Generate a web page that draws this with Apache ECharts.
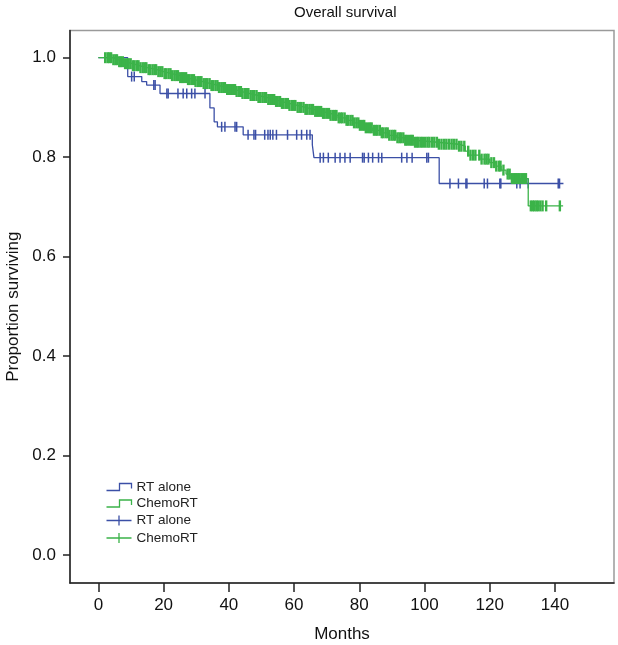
<!DOCTYPE html>
<html>
<head>
<meta charset="utf-8">
<script src="https://cdn.jsdelivr.net/npm/echarts@6/dist/echarts.min.js"></script>
<style>html,body{margin:0;padding:0;background:#fff}#c{width:618px;height:645px}</style>
</head>
<body>
<div id="c"></div>
<script>
// ---- data ----
const xTicks = [0, 20, 40, 60, 80, 100, 120, 140];
const yTicks = [0.0, 0.2, 0.4, 0.6, 0.8, 1.0];

// Kaplan-Meier steps: [month, survival after step]
const rtSteps = [[0,1.0],[9.0,0.962],[13.3,0.952],[14.8,0.945],[18.9,0.928],[34.2,0.899],[35.5,0.871],[36.5,0.861],[44.4,0.845],[65.6,0.825],[66.1,0.799],[104.5,0.747],[142.6,0.747]];
const chemoSteps = [[0,1.0],[4.5,0.996],[6,0.992],[8,0.988],[10.5,0.984],[12.5,0.980],[15,0.976],[18,0.972],[20,0.968],[22.5,0.964],[25,0.960],[27,0.956],[29.5,0.952],[32,0.948],[34.5,0.944],[37,0.940],[39.5,0.936],[42,0.932],[44,0.928],[46.5,0.924],[49,0.920],[51.5,0.916],[54,0.912],[56,0.908],[58.5,0.904],[61,0.900],[63.5,0.896],[66,0.892],[68.5,0.888],[71,0.884],[73.5,0.879],[76,0.874],[78,0.869],[80,0.864],[82,0.859],[84,0.854],[86.5,0.849],[89,0.844],[91.5,0.839],[94,0.834],[97,0.830],[104,0.826],[110.5,0.822],[112.5,0.812],[113.5,0.804],[117,0.796],[120,0.789],[122,0.782],[123.5,0.774],[125,0.766],[126.5,0.757],[131.8,0.702],[142.5,0.702]];

// censored observation times (months)
const rtCensor = [10.2,11.0,17.0,17.4,21.0,21.4,24.4,26.0,27.1,28.6,29.6,32.7,37.8,38.8,41.9,42.4,45.9,47.7,48.2,51.0,52.0,52.7,53.5,54.6,58.0,60.8,62.3,63.9,64.9,68.0,69.0,70.5,72.6,74.1,75.6,77.2,81.0,81.5,82.8,84.1,85.9,86.9,93.0,94.6,96.2,100.7,101.2,107.8,110.4,112.7,113.0,118.3,119.3,123.1,123.4,128.3,129.3,131.8,141.0,141.4];
const chemoCensor = [2.1,2.8,3.3,3.9,4.6,5.2,5.7,6.4,6.9,7.5,8.2,8.8,9.3,9.9,10.6,11.1,11.8,12.3,12.9,13.6,14.2,14.7,15.4,15.9,16.6,17.2,17.7,18.4,19.0,19.6,20.3,20.8,21.5,22.1,22.6,23.3,23.9,24.4,25.1,25.7,26.2,26.9,27.5,28.0,28.7,29.3,29.8,30.5,31.1,31.6,32.3,32.9,33.4,34.1,34.7,35.2,35.9,36.5,37.0,37.7,38.3,38.8,39.5,40.1,40.6,41.3,41.9,42.4,43.1,43.7,44.2,44.9,45.5,46.0,46.7,47.3,47.8,48.5,49.1,49.6,50.3,50.9,51.4,52.1,52.7,53.2,53.9,54.5,55.0,55.7,56.3,56.8,57.5,58.1,58.6,59.3,59.9,60.4,61.1,61.7,62.2,62.9,63.5,64.0,64.7,65.3,65.8,66.5,67.1,67.6,68.3,68.9,69.4,70.1,70.7,71.2,71.9,72.5,73.0,73.7,74.3,74.8,75.5,76.1,76.6,77.3,77.9,78.4,79.1,79.7,80.2,80.9,81.5,82.0,82.7,83.3,83.8,84.5,85.1,85.6,86.3,86.9,87.4,88.1,88.7,89.2,89.9,90.5,91.0,91.7,92.3,92.8,93.5,94.1,94.6,95.3,95.9,96.4,97.1,97.7,98.2,98.9,99.5,100.2,100.9,101.5,102.3,103.0,103.8,104.4,105.2,106.0,106.7,107.5,108.3,109.0,109.8,110.6,111.3,112.2,113.4,114.1,114.9,115.6,116.8,117.5,118.4,119.0,119.6,120.5,121.3,122.0,122.8,123.3,124.2,125.5,126.1,126.8,127.5,128.0,128.6,129.2,129.9,130.5,131.1,132.6,133.2,133.7,134.3,134.8,135.5,136.2,137.3,141.5];

// ---- helpers ----
function survAt(steps, t) {
  let s = steps[0][1];
  for (const p of steps) { if (p[0] <= t) s = p[1]; else break; }
  return s;
}
const BLUE = '#3b4fa6';
const GREEN = '#3bb349';
const FONT = '"Liberation Sans", Arial, Helvetica, sans-serif';
const stepIcon = 'path://M0,7 L13,7 L13,0 L25,0 L25,5';
const plusIcon = 'path://M0,5 L25,5 M12.5,0 L12.5,10';

const chart = echarts.init(document.getElementById('c'), null, {renderer: 'canvas'});
chart.setOption({
  animation: false,
  backgroundColor: '#fff',
  textStyle: {fontFamily: FONT},
  title: {
    text: 'Overall survival', left: 289, top: 0,
    textStyle: {fontSize: 15, fontWeight: 'normal', color: '#111', fontFamily: FONT}
  },
  grid: {left: 70, right: 4, top: 30.5, bottom: 62, show: true, borderColor: '#9a9a9a', borderWidth: 1.5,
         containLabel: false, outerBoundsMode: 'none'},
  xAxis: {
    type: 'value', min: -8.7, max: 158.1,
    name: 'Months', nameLocation: 'middle', nameGap: 43,
    nameTextStyle: {fontSize: 17, color: '#111', fontFamily: FONT},
    axisLine: {show: true, onZero: false, lineStyle: {color: '#222', width: 1.5}},
    axisTick: {show: true, length: 9, lineStyle: {color: '#222', width: 1.5}, customValues: xTicks},
    axisLabel: {customValues: xTicks, fontSize: 17, color: '#111', margin: 14, fontFamily: FONT},
    splitLine: {show: false}
  },
  yAxis: {
    type: 'value', min: -0.0563, max: 1.0547,
    name: 'Proportion surviving', nameLocation: 'middle', nameGap: 48, nameRotate: 90,
    nameTextStyle: {fontSize: 17, color: '#111', fontFamily: FONT},
    axisLine: {show: true, onZero: false, lineStyle: {color: '#222', width: 1.5}},
    axisTick: {show: true, length: 7, lineStyle: {color: '#222', width: 1.5}, customValues: yTicks},
    axisLabel: {customValues: yTicks, fontSize: 17, color: '#111', margin: 14, fontFamily: FONT,
      formatter: v => Number(v).toFixed(1)},
    splitLine: {show: false}
  },
  legend: {
    orient: 'vertical', left: 99, top: 475, itemWidth: 25, itemHeight: 10, itemGap: 2.5, padding: 5,
    symbolKeepAspect: true,
    textStyle: {fontSize: 13.5, color: '#222', fontFamily: FONT},
    formatter: n => n.replace(/ (line|cens)$/, ''),
    data: [
      {name: 'RT alone line', icon: stepIcon, itemStyle: {color: 'none', borderColor: BLUE, borderWidth: 1.3}},
      {name: 'ChemoRT line', icon: stepIcon, itemStyle: {color: 'none', borderColor: GREEN, borderWidth: 1.3}},
      {name: 'RT alone cens', icon: plusIcon, itemStyle: {color: 'none', borderColor: BLUE, borderWidth: 1.3}},
      {name: 'ChemoRT cens', icon: plusIcon, itemStyle: {color: 'none', borderColor: GREEN, borderWidth: 1.3}}
    ]
  },
  series: [
    {name: 'RT alone line', type: 'line', step: 'end', data: rtSteps, showSymbol: false, symbol: 'none',
     lineStyle: {color: BLUE, width: 1.3}, itemStyle: {color: BLUE}, z: 2},
    {name: 'RT alone cens', type: 'scatter', symbol: 'rect', symbolSize: [1.5, 10],
     data: rtCensor.map(t => [t, survAt(rtSteps, t)]), itemStyle: {color: BLUE, opacity: 1}, z: 3},
    {name: 'ChemoRT line', type: 'line', step: 'end', data: chemoSteps, showSymbol: false, symbol: 'none',
     lineStyle: {color: GREEN, width: 1.3}, itemStyle: {color: GREEN}, z: 4},
    {name: 'ChemoRT cens', type: 'scatter', symbol: 'rect', symbolSize: [2.4, 11],
     data: chemoCensor.map(t => [t, survAt(chemoSteps, t)]), itemStyle: {color: GREEN, opacity: 1}, z: 5}
  ]
});
</script>
</body>
</html>
